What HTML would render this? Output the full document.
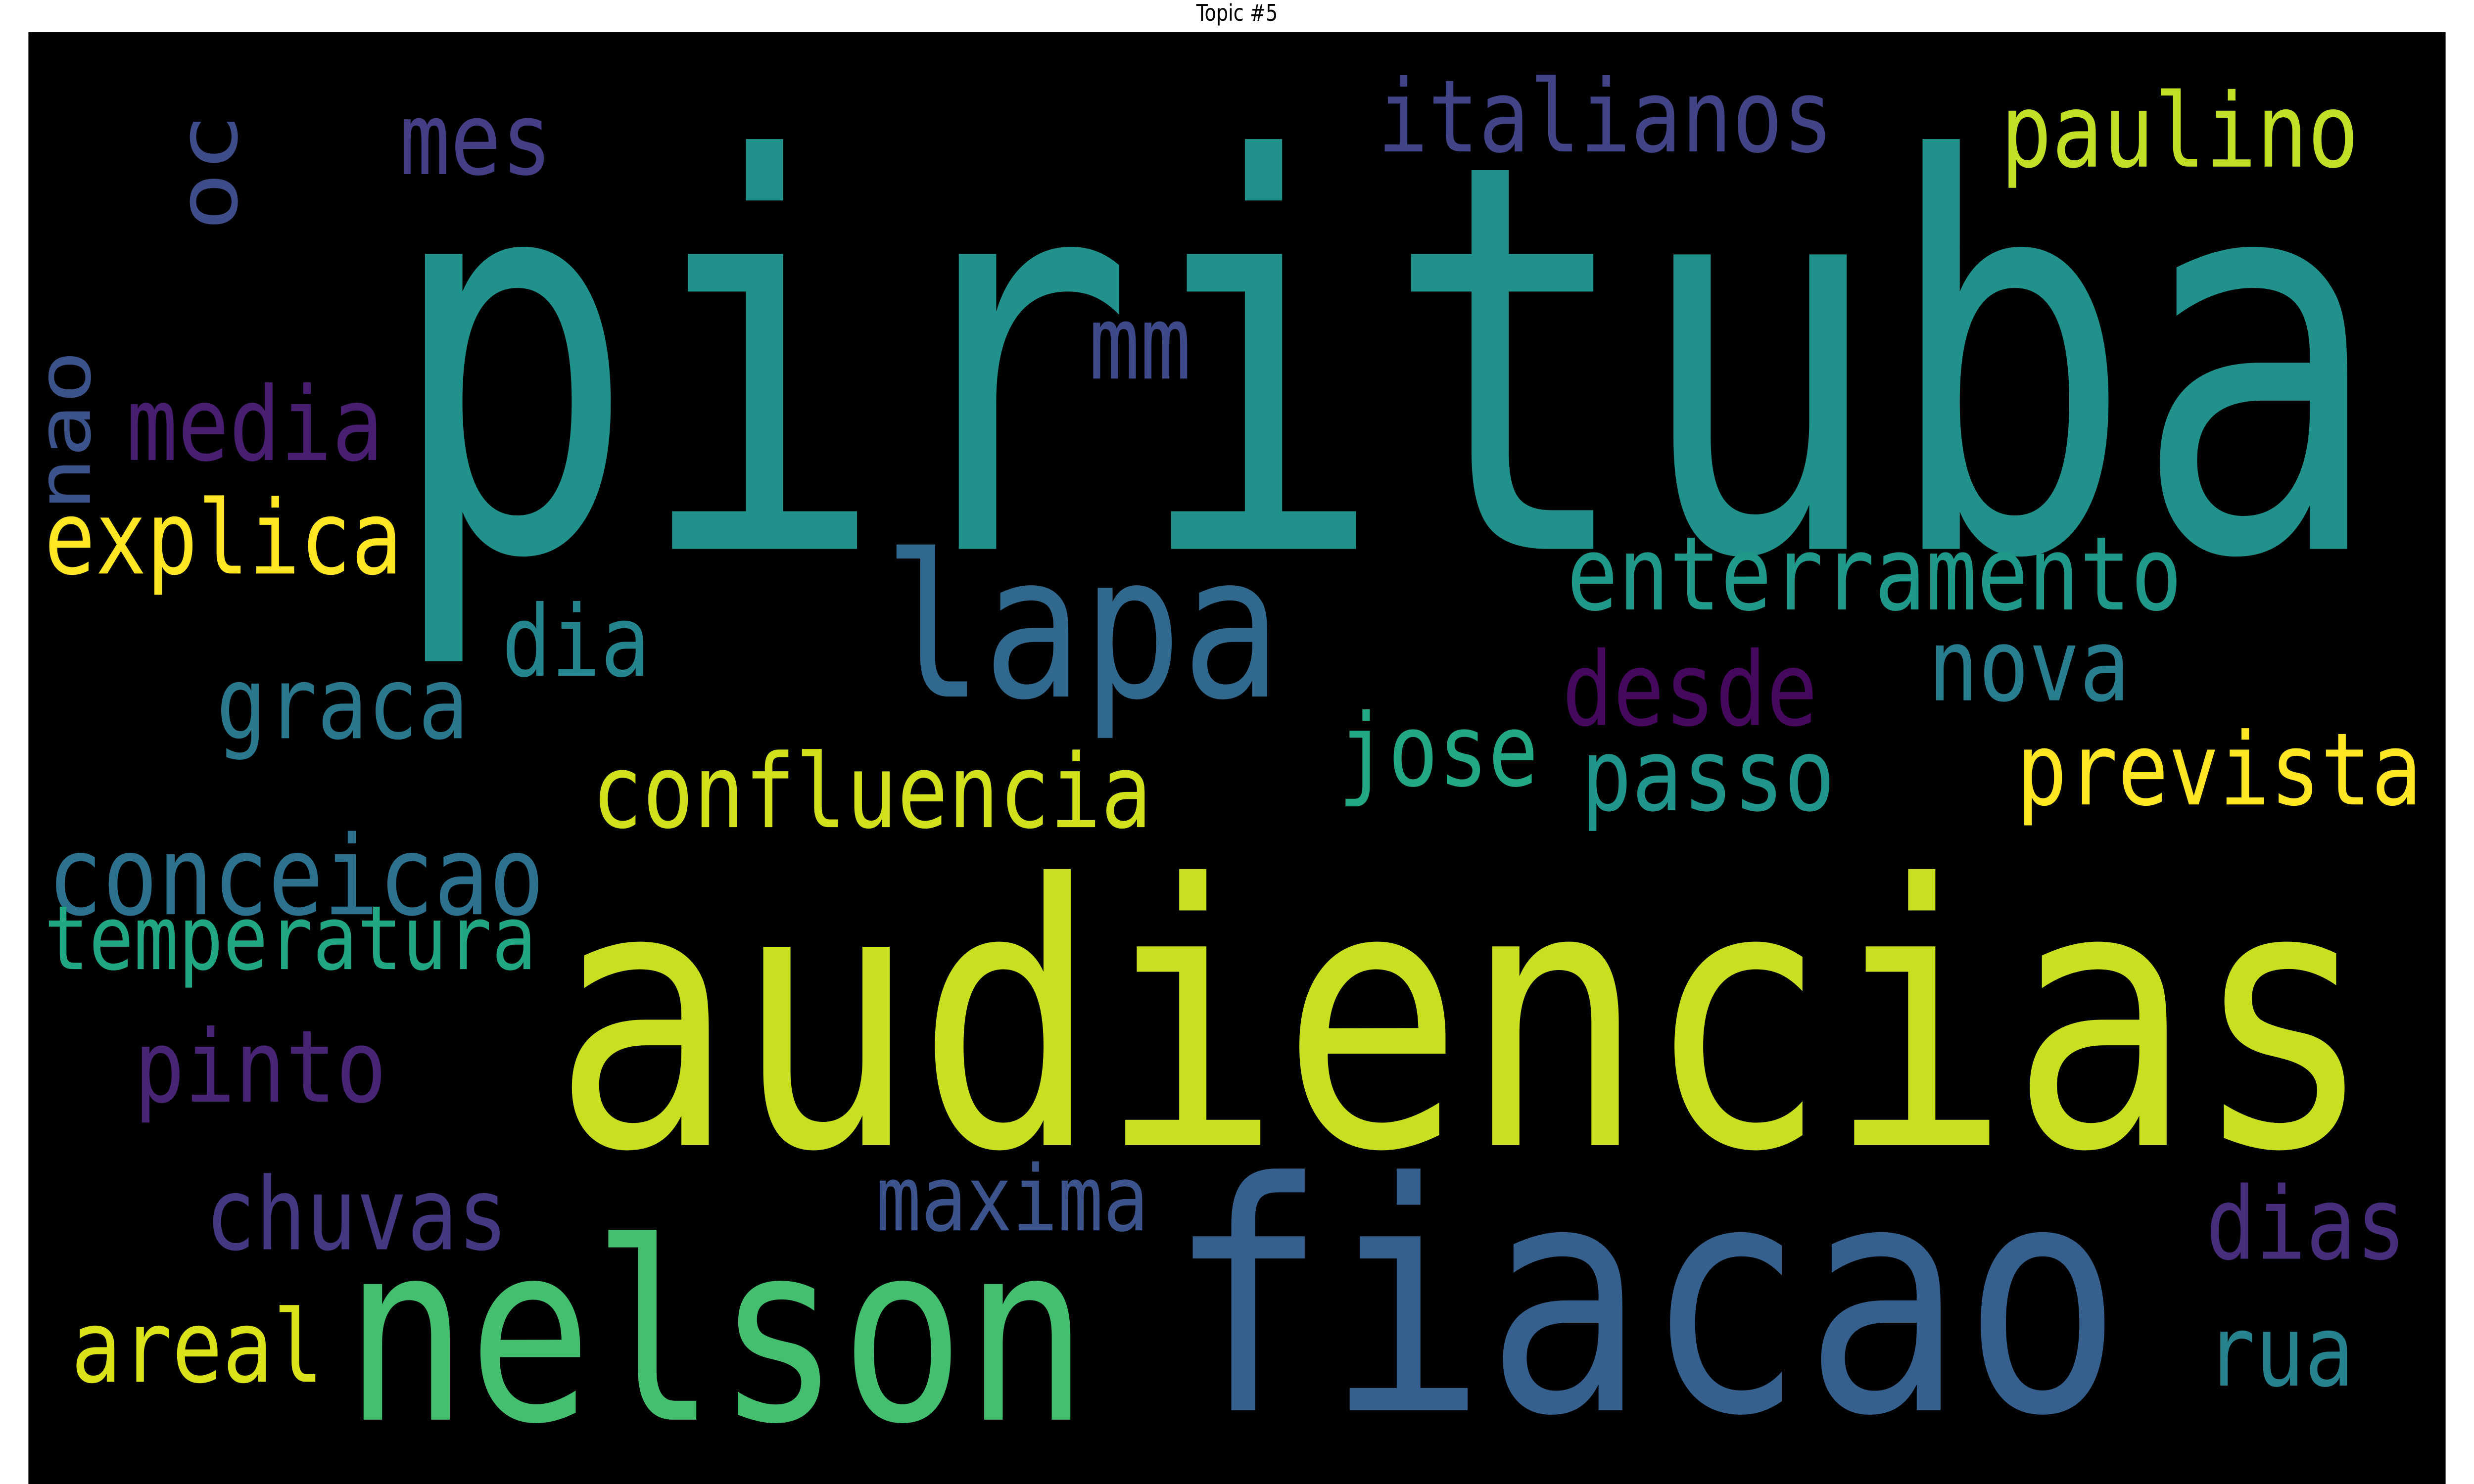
<!DOCTYPE html>
<html>
<head>
<meta charset="utf-8">
<style>
html,body{margin:0;padding:0;background:#fff;width:100%;height:100%;overflow:hidden;}
svg{display:block;width:100vw;height:100vh;}
</style>
</head>
<body>
<svg id="chart" xmlns="http://www.w3.org/2000/svg" viewBox="0 0 1568 784" preserveAspectRatio="none">
  <rect x="0" y="0" width="1568" height="784" fill="#ffffff"/>
  <text x="784" y="11" text-anchor="middle" font-family="'DejaVu Sans','Liberation Sans',sans-serif" font-size="12" fill="#000">Topic #5</text>
  <rect x="18" y="17" width="1532" height="767" fill="#000000"/>
  <g id="words"></g>
</svg>
<script>
const words = ["pirituba","audiencias","fiacao","nelson","lapa","explica","confluencia","conceicao","enterramento","prevista","paulino","italianos","mes","media","graca","dia","desde","nova","jose","passo","temperatura","pinto","chuvas","maxima","dias","areal","rua","mm","oc","nao"];
const sizes = [285,192,168,131,105,54,54,58,54,53,54,53,53,54,53,52,54,53,53,53,47,53,53,48,53,53,52,54,53,47];
const colors = ["#21918c","#c8e020","#355f8d","#44bf70","#31688e","#fde725","#d0e11c","#2c728e","#1f9a8a","#fde725","#c0df25","#414487","#433e85","#481f70","#2a788e","#25858e","#46085c","#287d8e","#22a884","#1f958b","#22a785","#482475","#453781","#3b528b","#472d7b","#dae319","#26828e","#3e4989","#3e4c8a","#3b528b"];
const lefts = [245,350,740,218,560,28,375,30,993,1278,1268,873,253,80,137,318,990,1222,848,1002,28,85,130,555,1398,45,1398,690,150,57];
const baselines = [290,605,745,750,368,303,437,483,322,425,88,80,92,243,390,357,383,370,415,428,512,582,660,650,665,730,732,200,122,270];
const extents = [1265,1155,605,472,252,227,355,315,390,257,227,289,97,163,160,94,162,128,127,161,312,160,192,173,127,160,94,65,62,85];
const rotated = [0,0,0,0,0,0,0,0,0,0,0,0,0,0,0,0,0,0,0,0,0,0,0,0,0,0,0,0,1,1];

const g = document.getElementById('words');
const NS = "http://www.w3.org/2000/svg";
for (let i = 0; i < words.length; i++) {
  const t = document.createElementNS(NS, 'text');
  
  
  t.setAttribute('font-family', "'DejaVu Sans Mono','Liberation Mono',monospace");
  t.setAttribute('font-size', sizes[i]);
  t.setAttribute('fill', colors[i]);
  t.setAttribute('textLength', extents[i]);
  t.setAttribute('lengthAdjust', 'spacingAndGlyphs');
  if (rotated[i]) {
    t.setAttribute('x', 0);
    t.setAttribute('y', 0);
    t.setAttribute('transform', 'translate(' + lefts[i] + ',' + baselines[i] + ') rotate(-90)');
  } else {
    t.setAttribute('x', lefts[i]);
    t.setAttribute('y', baselines[i]);
  }
  t.textContent = words[i];
  g.appendChild(t);
}
</script>
</body>
</html>
